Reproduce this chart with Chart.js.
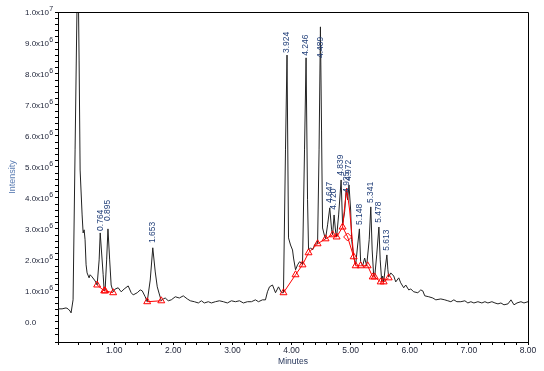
<!DOCTYPE html>
<html>
<head>
<meta charset="utf-8">
<script src="https://cdn.jsdelivr.net/npm/chart.js@4.4.1/dist/chart.umd.min.js"></script>
<style>
    html, body { margin: 0; padding: 0; background: #fff; }
    #wrap { width: 544px; height: 371px; position: relative; }
</style>
</head>
<body>
<div id="wrap"><canvas id="chrom"></canvas></div>
<script>
// Chromatogram trace (minutes, intensity in units of 1e6)
const times = [
    0.051, 0.119, 0.186, 0.220, 0.254, 0.271, 0.305, 0.339, 0.373, 0.390, 0.407, 0.424, 0.458, 0.475,
    0.492, 0.508, 0.525, 0.542, 0.576, 0.593, 0.627, 0.678, 0.712, 0.746, 0.764, 0.814, 0.831, 0.847,
    0.873, 0.895, 0.924, 0.949, 0.983, 1.017, 1.068, 1.119, 1.169, 1.237, 1.288, 1.322, 1.390, 1.441,
    1.475, 1.525, 1.559, 1.610, 1.653, 1.695, 1.729, 1.763, 1.797, 1.831, 1.864, 1.915, 1.966, 2.034,
    2.102, 2.169, 2.237, 2.288, 2.356, 2.424, 2.475, 2.525, 2.593, 2.644, 2.712, 2.780, 2.847, 2.915,
    2.983, 3.051, 3.119, 3.186, 3.254, 3.322, 3.390, 3.441, 3.508, 3.559, 3.593, 3.627, 3.678, 3.729,
    3.780, 3.831, 3.864, 3.898, 3.924, 3.949, 3.983, 4.017, 4.034, 4.068, 4.102, 4.136, 4.169, 4.186,
    4.220, 4.246, 4.271, 4.288, 4.322, 4.356, 4.390, 4.424, 4.441, 4.466, 4.489, 4.508, 4.525, 4.559,
    4.576, 4.610, 4.647, 4.678, 4.695, 4.720, 4.746, 4.763, 4.797, 4.839, 4.864, 4.898, 4.925, 4.949,
    4.972, 5.000, 5.017, 5.051, 5.085, 5.119, 5.148, 5.169, 5.203, 5.237, 5.271, 5.314, 5.341, 5.364,
    5.390, 5.407, 5.441, 5.478, 5.500, 5.525, 5.542, 5.559, 5.585, 5.613, 5.630, 5.644, 5.678, 5.729,
    5.763, 5.814, 5.847, 5.898, 5.932, 5.983, 6.017, 6.068, 6.136, 6.186, 6.220, 6.254, 6.322, 6.390,
    6.441, 6.525, 6.593, 6.644, 6.695, 6.746, 6.797, 6.864, 6.932, 6.983, 7.034, 7.085, 7.153, 7.220,
    7.271, 7.322, 7.390, 7.441, 7.492, 7.542, 7.593, 7.661, 7.712, 7.763, 7.814, 7.881, 7.932, 8.000
];
const intensity = [
    0.42, 0.42, 0.45, 0.42, 0.35, 0.29, 0.71, 5.55, 10.39, 11.35, 8.45, 4.90, 3.45, 2.87,
    2.97, 2.65, 1.84, 1.58, 1.42, 1.52, 1.45, 1.32, 1.19, 2.00, 2.87, 1.52, 1.00, 1.03,
    2.00, 3.00, 2.00, 1.19, 0.97, 1.06, 1.10, 0.97, 1.06, 1.16, 0.94, 0.87, 0.94, 1.03,
    1.00, 0.81, 0.65, 1.35, 2.39, 1.61, 1.13, 0.90, 0.68, 0.74, 0.77, 0.68, 0.71, 0.81,
    0.77, 0.84, 0.74, 0.68, 0.65, 0.61, 0.68, 0.61, 0.65, 0.61, 0.65, 0.68, 0.65, 0.61,
    0.68, 0.65, 0.68, 0.61, 0.65, 0.65, 0.71, 0.65, 0.71, 0.71, 0.97, 1.13, 1.19, 0.94,
    1.13, 0.94, 0.94, 5.55, 8.61, 2.71, 2.48, 2.32, 2.06, 1.68, 1.84, 1.94, 1.90, 1.84,
    5.55, 8.52, 3.94, 2.32, 2.39, 2.32, 2.48, 2.55, 2.52, 5.55, 9.52, 6.19, 3.03, 2.77,
    2.68, 3.13, 3.68, 2.97, 2.81, 3.45, 2.90, 2.74, 3.45, 4.58, 3.13, 3.55, 4.26, 3.94,
    4.42, 3.61, 2.65, 2.10, 1.84, 2.48, 3.00, 1.94, 1.81, 2.06, 1.81, 2.65, 3.71, 2.32,
    1.48, 1.45, 2.16, 3.06, 2.00, 1.32, 1.48, 1.29, 1.74, 2.16, 1.68, 1.45, 1.58, 1.48,
    1.29, 1.42, 1.26, 1.10, 1.19, 1.03, 1.06, 0.97, 0.94, 1.03, 1.00, 0.84, 0.81, 0.77,
    0.71, 0.74, 0.71, 0.68, 0.65, 0.71, 0.65, 0.65, 0.68, 0.61, 0.65, 0.61, 0.65, 0.61,
    0.65, 0.61, 0.65, 0.61, 0.58, 0.61, 0.55, 0.58, 0.71, 0.55, 0.61, 0.65, 0.61, 0.65
];

// Integration baselines (null = gap between groups)
const baseTimes = [0.712, 0.831, 0.847, 0.983, 1.2, 1.559, 1.797, 3.0,
    3.864, 4.068, 4.186, 4.288, 4.441, 4.576, 4.695, 4.763, 4.864, 4.949,
    5.051, 5.085, 5.169, 5.288, 5.373, 5.407, 5.508, 5.559, 5.644];
const baseIntensity = [1.19, 1.00, 1.00, 0.94, null, 0.65, 0.68, null,
    0.94, 1.52, 1.84, 2.23, 2.52, 2.68, 2.81, 2.74, 3.06, 2.74,
    2.10, 1.81, 1.81, 1.81, 1.45, 1.45, 1.29, 1.29, 1.42];
const diamondTimes = [4.949];

// Drop line through the 4.9 min cluster
const dropTimes = [4.864, 4.932, 4.983, 5.030, 5.051];
const dropIntensity = [3.06, 4.32, 3.61, 2.60, 2.10];

// Peak labels
const peakTimes = [0.764, 0.895, 1.653, 3.924, 4.246, 4.489, 4.647, 4.720, 4.839, 4.925, 4.972, 5.148, 5.341, 5.478, 5.613];
const peakLabels = ['0.764', '0.895', '1.653', '3.924', '4.246', '4.489', '4.647', '4.720', '4.839', '4.925', '4.972', '5.148', '5.341', '5.478', '5.613'];
const peakHeights = [2.87, 3.19, 2.48, 8.61, 8.52, 8.45, 3.77, 3.55, 4.65, 4.10, 4.48, 3.06, 3.77, 3.13, 2.23];

const yMajor = [0, 1, 2, 3, 4, 5, 6, 7, 8, 9, 10];

const FONT = "'Liberation Sans', Arial, sans-serif";

function isWhole(v) {
    return Math.abs(v - Math.round(v)) < 1e-6;
}

// Y tick labels with superscript exponent
const yLabelsPlugin = {
    id: 'yLabels',
    afterDraw(chart) {
        const ctx = chart.ctx;
        const ys = chart.scales.y;
        ctx.save();
        ctx.fillStyle = '#1b2035';
        ctx.textAlign = 'left';
        ctx.textBaseline = 'middle';
        yMajor.forEach(v => {
            const py = ys.getPixelForValue(v);
            let mant, exp = '';
            if (v === 0) mant = '0.0';
            else if (v === 10) { mant = '1.0x10'; exp = '7'; }
            else { mant = v.toFixed(1) + 'x10'; exp = '6'; }
            ctx.font = '8px ' + FONT;
            ctx.fillText(mant, 25, py + 0.5);
            if (exp) {
                const w = ctx.measureText(mant).width;
                ctx.font = '7px ' + FONT;
                ctx.fillText(exp, 25 + w + 0.3, py - 3);
            }
        });
        ctx.restore();
    }
};

// Box frame: top and right edges
const framePlugin = {
    id: 'frame',
    afterDraw(chart) {
        const a = chart.chartArea;
        const ctx = chart.ctx;
        ctx.save();
        ctx.strokeStyle = '#000';
        ctx.lineWidth = 1;
        ctx.beginPath();
        ctx.moveTo(Math.round(a.left) + 0.5, Math.round(a.top) + 0.5);
        ctx.lineTo(Math.round(a.right) + 0.5, Math.round(a.top) + 0.5);
        ctx.lineTo(Math.round(a.right) + 0.5, Math.round(a.bottom) + 0.5);
        ctx.stroke();
        ctx.restore();
    }
};

// Rotated retention time labels above peaks
const peakLabelPlugin = {
    id: 'peakLabels',
    afterDatasetsDraw(chart) {
        const ctx = chart.ctx;
        const xs = chart.scales.x;
        const ys = chart.scales.y;
        ctx.save();
        ctx.fillStyle = '#23407a';
        ctx.font = '8.5px ' + FONT;
        ctx.textAlign = 'left';
        ctx.textBaseline = 'middle';
        peakTimes.forEach((t, i) => {
            const px = xs.getPixelForValue(t);
            const py = ys.getPixelForValue(peakHeights[i]) - 2;
            ctx.save();
            ctx.translate(px, py);
            ctx.rotate(-Math.PI / 2);
            ctx.fillText(peakLabels[i], 0, 0);
            ctx.restore();
        });
        ctx.restore();
    }
};

const ctx = document.getElementById('chrom');
new Chart(ctx, {
    type: 'line',
    data: {
        datasets: [
            {
                data: times.map((t, i) => ({ x: t, y: intensity[i] })),
                borderColor: '#222',
                borderWidth: 1,
                pointRadius: 0,
                tension: 0,
                order: 3
            },
            {
                data: baseTimes.map((t, i) => ({ x: t, y: baseIntensity[i] })),
                borderColor: '#ff0000',
                borderWidth: 1,
                pointRadius: 4,
                pointStyle: c => diamondTimes.includes(baseTimes[c.dataIndex]) ? 'rectRot' : 'triangle',
                pointBorderColor: '#ff0000',
                pointBackgroundColor: 'rgba(255,255,255,0)',
                pointBorderWidth: 1,
                spanGaps: false,
                tension: 0,
                order: 1
            },
            {
                data: dropTimes.map((t, i) => ({ x: t, y: dropIntensity[i] })),
                borderColor: '#ff0000',
                borderWidth: 1,
                pointRadius: 0,
                tension: 0,
                order: 2
            }
        ]
    },
    options: {
        responsive: true,
        maintainAspectRatio: false,
        animation: false,
        layout: { padding: { top: 12, right: 16, left: 0, bottom: 0 } },
        plugins: {
            legend: { display: false },
            tooltip: { enabled: false }
        },
        scales: {
            x: {
                type: 'linear',
                min: 0.05,
                max: 8.0,
                afterFit: s => { s.height = 29; },
                border: { display: true, color: '#000', width: 1 },
                grid: { drawOnChartArea: false, drawTicks: true, tickLength: 3, color: '#000' },
                ticks: {
                    stepSize: 0.2,
                    autoSkip: false,
                    maxRotation: 0,
                    padding: 1,
                    color: '#1b2035',
                    font: { family: FONT, size: 8.5 },
                    callback: v => isWhole(v) ? v.toFixed(2) : ''
                },
                title: {
                    display: true,
                    text: 'Minutes',
                    color: '#1f2f55',
                    font: { family: FONT, size: 8.5 },
                    padding: { top: 0, bottom: 4 }
                }
            },
            y: {
                type: 'linear',
                min: -0.65,
                max: 10,
                afterFit: s => { s.width = 58; },
                border: { display: true, color: '#000', width: 1 },
                grid: { drawOnChartArea: false, drawTicks: true, tickLength: 3, color: '#000' },
                ticks: {
                    stepSize: 0.2,
                    autoSkip: false,
                    display: false
                },
                title: {
                    display: true,
                    text: 'Intensity',
                    color: '#5b7db3',
                    font: { family: FONT, size: 9 },
                    padding: { top: 7, bottom: 0 }
                }
            }
        }
    },
    plugins: [yLabelsPlugin, framePlugin, peakLabelPlugin]
});
</script>
</body>
</html>
